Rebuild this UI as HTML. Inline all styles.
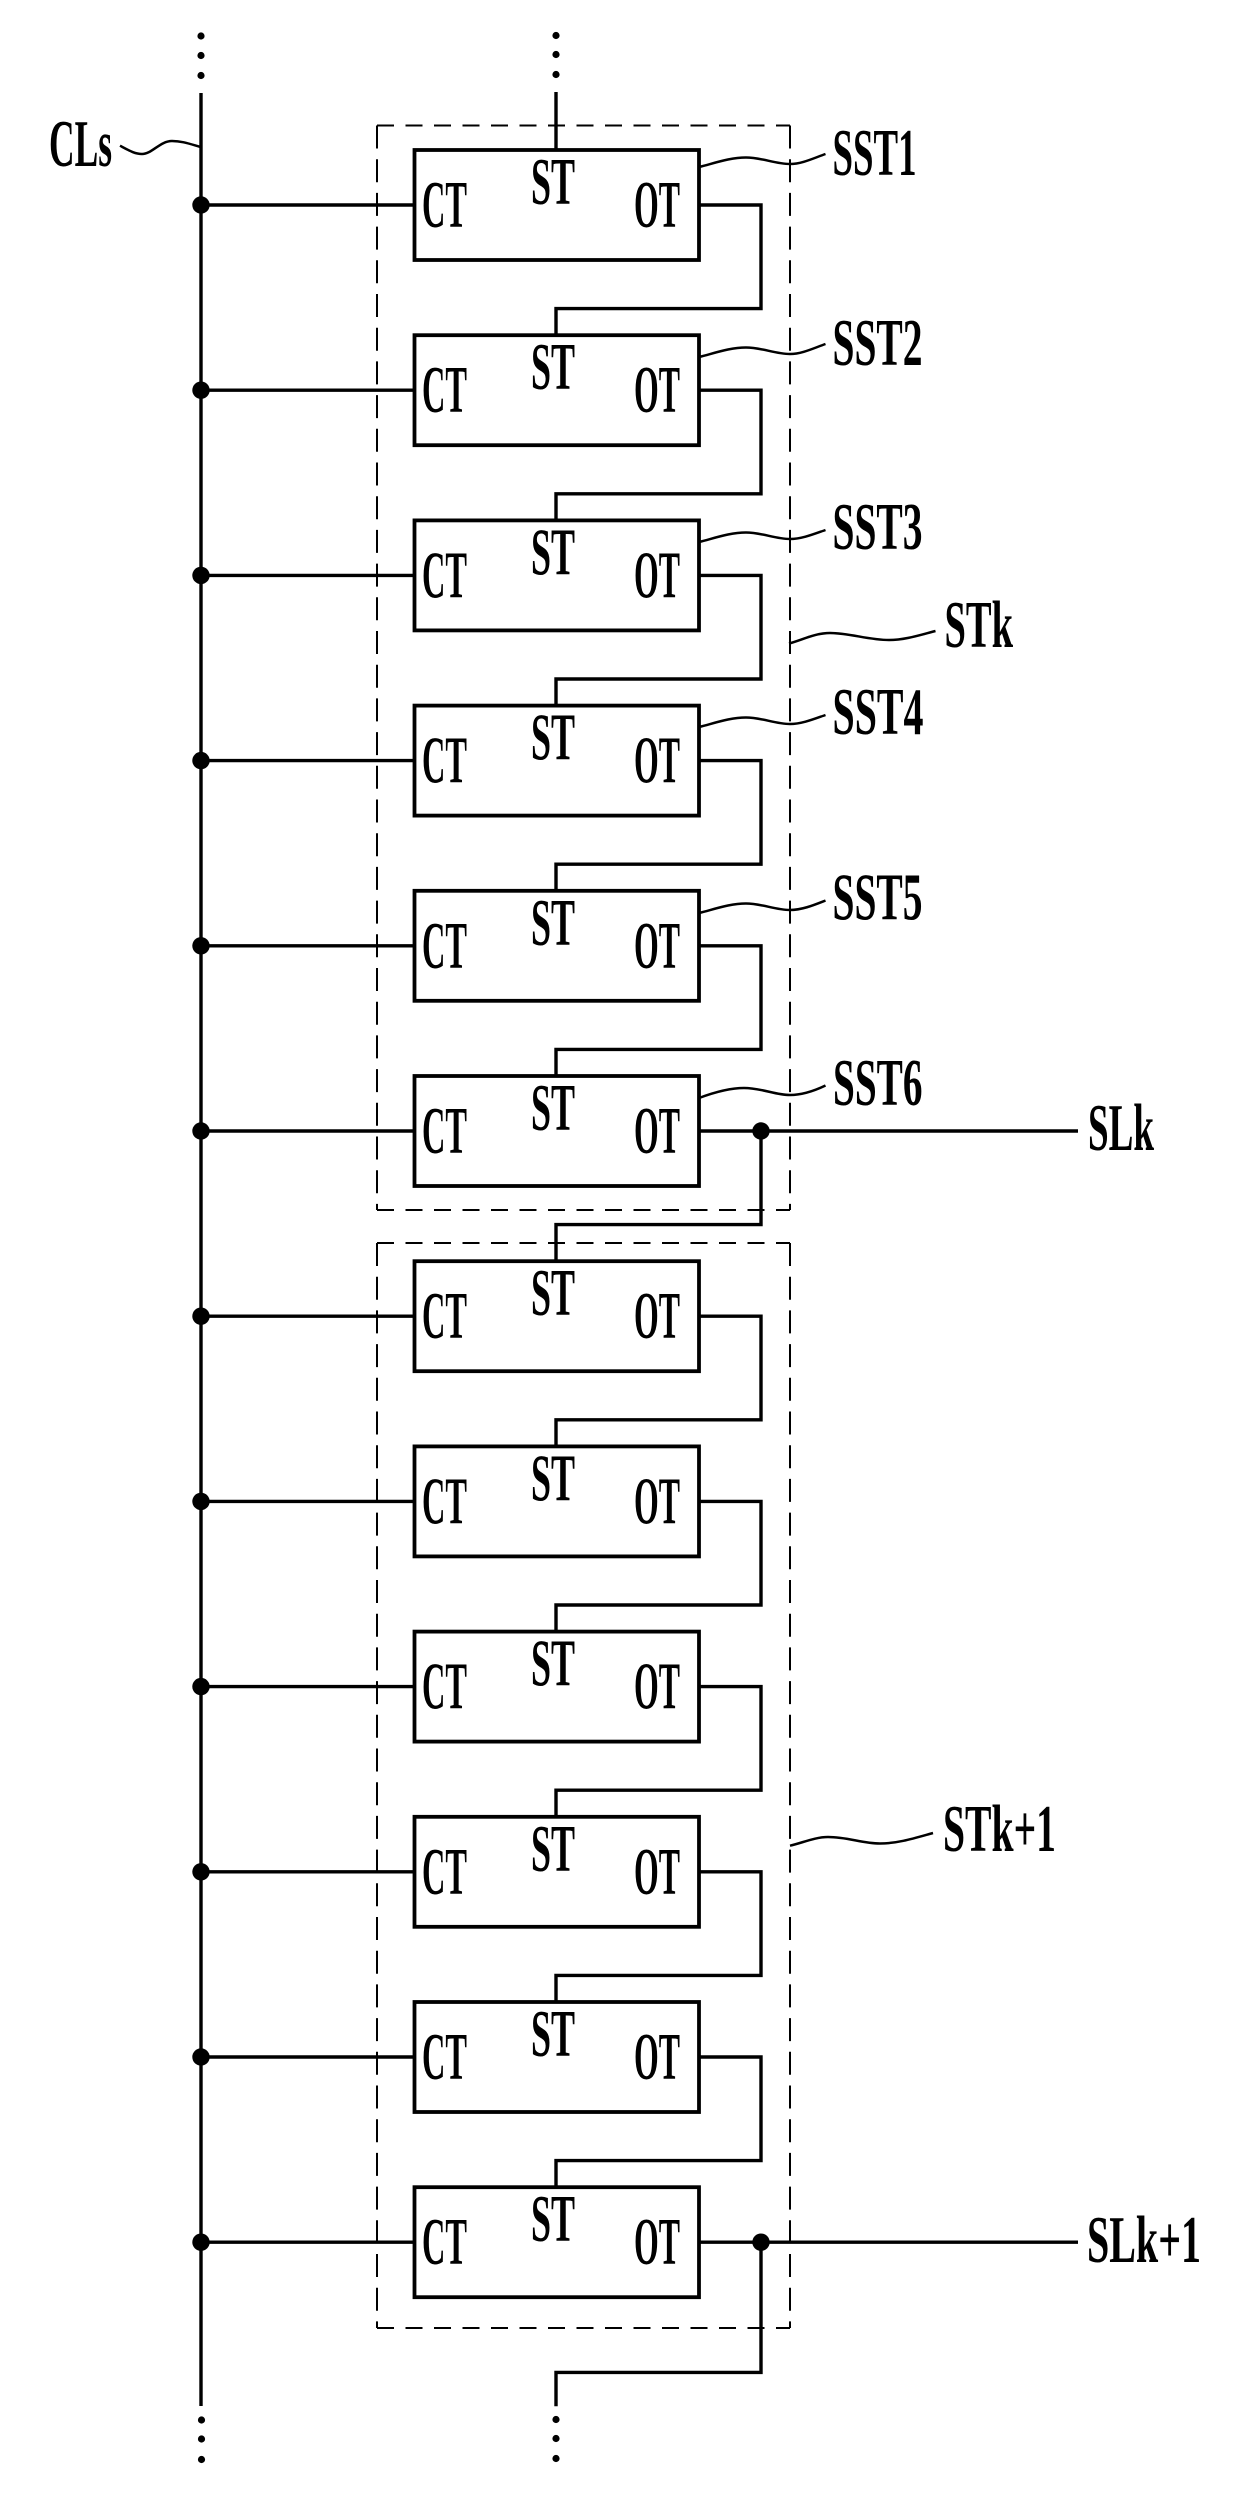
<!DOCTYPE html>
<html><head><meta charset="utf-8"><style>
html,body{margin:0;padding:0;background:#fff}
svg{display:block}
text{font-family:"Liberation Serif",serif;font-size:67px;font-weight:bold;fill:#000}
.w{fill:none;stroke:#000;stroke-width:3.4;stroke-linejoin:miter}
.b{fill:none;stroke:#000;stroke-width:3.8}
.l{fill:none;stroke:#000;stroke-width:2.5}
.dh{stroke:#000;stroke-width:2;stroke-dasharray:17 11.5;fill:none}
.dv{stroke:#000;stroke-width:2;stroke-dasharray:23 10.7;fill:none}
</style></head><body>
<svg width="1240" height="2497" viewBox="0 0 1240 2497" xmlns="http://www.w3.org/2000/svg">
<rect width="1240" height="2497" fill="#fff"/>
<!-- dashed groups -->
<path class="dh" d="M377 125.5H790"/><path class="dh" d="M377 1210H790"/>
<path class="dv" d="M377 125.5V1210"/><path class="dv" d="M790 125.5V1210"/>
<path class="dh" d="M377 1243H790"/><path class="dh" d="M377 2328H790"/>
<path class="dv" d="M377 1243V2328"/><path class="dv" d="M790 1243V2328"/>
<!-- bus -->
<path class="w" d="M201 93V2406"/>
<path class="w" d="M556 92V150"/>
<g fill="#000">
<ellipse cx="201" cy="36" rx="3.6" ry="3.6"/><ellipse cx="201" cy="55.5" rx="3.6" ry="3.6"/><ellipse cx="201" cy="75.5" rx="3.6" ry="3.6"/>
<ellipse cx="556" cy="35.5" rx="3.6" ry="3.6"/><ellipse cx="556" cy="54.5" rx="3.6" ry="3.6"/><ellipse cx="556" cy="74.5" rx="3.6" ry="3.6"/>
<ellipse cx="201.5" cy="2420" rx="3.6" ry="3.6"/><ellipse cx="201.5" cy="2439" rx="3.6" ry="3.6"/><ellipse cx="201.5" cy="2459.5" rx="3.6" ry="3.6"/>
<ellipse cx="556" cy="2419.5" rx="3.6" ry="3.6"/><ellipse cx="556" cy="2438.5" rx="3.6" ry="3.6"/><ellipse cx="556" cy="2458.5" rx="3.6" ry="3.6"/>
</g>

<g transform="translate(0,150)">
<rect class="b" x="414.5" y="0" width="284.5" height="110"/>
<path class="w" d="M201 55H414.5M699 55H761V158.6H556V185.2"/><circle cx="201" cy="55" r="8.7"/>
<text x="422" y="77" textLength="45" lengthAdjust="spacingAndGlyphs">CT</text>
<text x="531" y="54" textLength="44" lengthAdjust="spacingAndGlyphs">ST</text>
<text x="634" y="77" textLength="46" lengthAdjust="spacingAndGlyphs">OT</text>
</g>
<g transform="translate(0,335.2)">
<rect class="b" x="414.5" y="0" width="284.5" height="110"/>
<path class="w" d="M201 55H414.5M699 55H761V158.6H556V185.2"/><circle cx="201" cy="55" r="8.7"/>
<text x="422" y="77" textLength="45" lengthAdjust="spacingAndGlyphs">CT</text>
<text x="531" y="54" textLength="44" lengthAdjust="spacingAndGlyphs">ST</text>
<text x="634" y="77" textLength="46" lengthAdjust="spacingAndGlyphs">OT</text>
</g>
<g transform="translate(0,520.4)">
<rect class="b" x="414.5" y="0" width="284.5" height="110"/>
<path class="w" d="M201 55H414.5M699 55H761V158.6H556V185.2"/><circle cx="201" cy="55" r="8.7"/>
<text x="422" y="77" textLength="45" lengthAdjust="spacingAndGlyphs">CT</text>
<text x="531" y="54" textLength="44" lengthAdjust="spacingAndGlyphs">ST</text>
<text x="634" y="77" textLength="46" lengthAdjust="spacingAndGlyphs">OT</text>
</g>
<g transform="translate(0,705.6)">
<rect class="b" x="414.5" y="0" width="284.5" height="110"/>
<path class="w" d="M201 55H414.5M699 55H761V158.6H556V185.2"/><circle cx="201" cy="55" r="8.7"/>
<text x="422" y="77" textLength="45" lengthAdjust="spacingAndGlyphs">CT</text>
<text x="531" y="54" textLength="44" lengthAdjust="spacingAndGlyphs">ST</text>
<text x="634" y="77" textLength="46" lengthAdjust="spacingAndGlyphs">OT</text>
</g>
<g transform="translate(0,890.8)">
<rect class="b" x="414.5" y="0" width="284.5" height="110"/>
<path class="w" d="M201 55H414.5M699 55H761V158.6H556V185.2"/><circle cx="201" cy="55" r="8.7"/>
<text x="422" y="77" textLength="45" lengthAdjust="spacingAndGlyphs">CT</text>
<text x="531" y="54" textLength="44" lengthAdjust="spacingAndGlyphs">ST</text>
<text x="634" y="77" textLength="46" lengthAdjust="spacingAndGlyphs">OT</text>
</g>
<g transform="translate(0,1076)">
<rect class="b" x="414.5" y="0" width="284.5" height="110"/>
<path class="w" d="M201 55H414.5M699 55H1078M761 55V148.6H556V185.2"/><circle cx="201" cy="55" r="8.7"/><circle cx="761" cy="55" r="8.7"/>
<text x="422" y="77" textLength="45" lengthAdjust="spacingAndGlyphs">CT</text>
<text x="531" y="54" textLength="44" lengthAdjust="spacingAndGlyphs">ST</text>
<text x="634" y="77" textLength="46" lengthAdjust="spacingAndGlyphs">OT</text>
</g>
<g transform="translate(0,1261.2)">
<rect class="b" x="414.5" y="0" width="284.5" height="110"/>
<path class="w" d="M201 55H414.5M699 55H761V158.6H556V185.2"/><circle cx="201" cy="55" r="8.7"/>
<text x="422" y="77" textLength="45" lengthAdjust="spacingAndGlyphs">CT</text>
<text x="531" y="54" textLength="44" lengthAdjust="spacingAndGlyphs">ST</text>
<text x="634" y="77" textLength="46" lengthAdjust="spacingAndGlyphs">OT</text>
</g>
<g transform="translate(0,1446.4)">
<rect class="b" x="414.5" y="0" width="284.5" height="110"/>
<path class="w" d="M201 55H414.5M699 55H761V158.6H556V185.2"/><circle cx="201" cy="55" r="8.7"/>
<text x="422" y="77" textLength="45" lengthAdjust="spacingAndGlyphs">CT</text>
<text x="531" y="54" textLength="44" lengthAdjust="spacingAndGlyphs">ST</text>
<text x="634" y="77" textLength="46" lengthAdjust="spacingAndGlyphs">OT</text>
</g>
<g transform="translate(0,1631.6)">
<rect class="b" x="414.5" y="0" width="284.5" height="110"/>
<path class="w" d="M201 55H414.5M699 55H761V158.6H556V185.2"/><circle cx="201" cy="55" r="8.7"/>
<text x="422" y="77" textLength="45" lengthAdjust="spacingAndGlyphs">CT</text>
<text x="531" y="54" textLength="44" lengthAdjust="spacingAndGlyphs">ST</text>
<text x="634" y="77" textLength="46" lengthAdjust="spacingAndGlyphs">OT</text>
</g>
<g transform="translate(0,1816.8)">
<rect class="b" x="414.5" y="0" width="284.5" height="110"/>
<path class="w" d="M201 55H414.5M699 55H761V158.6H556V185.2"/><circle cx="201" cy="55" r="8.7"/>
<text x="422" y="77" textLength="45" lengthAdjust="spacingAndGlyphs">CT</text>
<text x="531" y="54" textLength="44" lengthAdjust="spacingAndGlyphs">ST</text>
<text x="634" y="77" textLength="46" lengthAdjust="spacingAndGlyphs">OT</text>
</g>
<g transform="translate(0,2002)">
<rect class="b" x="414.5" y="0" width="284.5" height="110"/>
<path class="w" d="M201 55H414.5M699 55H761V158.6H556V185.2"/><circle cx="201" cy="55" r="8.7"/>
<text x="422" y="77" textLength="45" lengthAdjust="spacingAndGlyphs">CT</text>
<text x="531" y="54" textLength="44" lengthAdjust="spacingAndGlyphs">ST</text>
<text x="634" y="77" textLength="46" lengthAdjust="spacingAndGlyphs">OT</text>
</g>
<g transform="translate(0,2187.2)">
<rect class="b" x="414.5" y="0" width="284.5" height="110"/>
<path class="w" d="M201 55H414.5M699 55H1078M761 55V185.2H556V219"/><circle cx="201" cy="55" r="8.7"/><circle cx="761" cy="55" r="8.7"/>
<text x="422" y="77" textLength="45" lengthAdjust="spacingAndGlyphs">CT</text>
<text x="531" y="54" textLength="44" lengthAdjust="spacingAndGlyphs">ST</text>
<text x="634" y="77" textLength="46" lengthAdjust="spacingAndGlyphs">OT</text>
</g>

<!-- leaders -->
<path class="l" d="M120 145.7C130 151 135 154 142 154C152 154 160 141 172 141C182 141 190 144 200.5 147"/>
<path class="l" d="M699 167C715 163 730 157.5 746 157.5C762 157.5 775 164 790 164C802 164 814 158 825.5 154"/>
<path class="l" d="M699 357C715 353 730 347.5 746 347.5C762 347.5 775 354 790 354C802 354 814 348 825.5 344"/>
<path class="l" d="M699 542C715 538 730 532.5 746 532.5C762 532.5 775 539 790 539C802 539 814 534 825.5 530"/>
<path class="l" d="M699 727C715 723 730 717.5 746 717.5C762 717.5 775 724 790 724C802 724 814 719 825.5 715"/>
<path class="l" d="M699 913C715 909 730 903.5 746 903.5C762 903.5 775 910 790 910C802 910 814 905 825.5 900.5"/>
<path class="l" d="M699 1098C715 1092 730 1088 744 1088C762 1088 775 1095 790 1095C802 1095 814 1091 825.5 1085.5"/>
<path class="l" d="M789 643.5C802 640 815 633 830 633C850 633 868 640 889 640C905 640 920 635 935.5 631"/>
<path class="l" d="M790 1845.7C802 1843 815 1837 828 1837C848 1837 862 1843.5 880 1843.5C898 1843.5 915 1838 933 1833"/>

<!-- labels -->
<text x="49" y="166" textLength="63" lengthAdjust="spacingAndGlyphs">CLs</text>
<text x="832.5" y="175" textLength="84" lengthAdjust="spacingAndGlyphs">SST1</text>
<text x="832.5" y="365" textLength="90" lengthAdjust="spacingAndGlyphs">SST2</text>
<text x="832.5" y="549" textLength="90" lengthAdjust="spacingAndGlyphs">SST3</text>
<text x="832.5" y="734" textLength="91" lengthAdjust="spacingAndGlyphs">SST4</text>
<text x="832.5" y="919.5" textLength="90" lengthAdjust="spacingAndGlyphs">SST5</text>
<text x="833" y="1105" textLength="89.5" lengthAdjust="spacingAndGlyphs">SST6</text>
<text x="944.5" y="647" textLength="68.5" lengthAdjust="spacingAndGlyphs">STk</text>
<text x="943" y="1851" textLength="113" lengthAdjust="spacingAndGlyphs">STk+1</text>
<text x="1088" y="1150" textLength="66" lengthAdjust="spacingAndGlyphs">SLk</text>
<text x="1087" y="2262" textLength="114" lengthAdjust="spacingAndGlyphs">SLk+1</text>
</svg>
</body></html>
